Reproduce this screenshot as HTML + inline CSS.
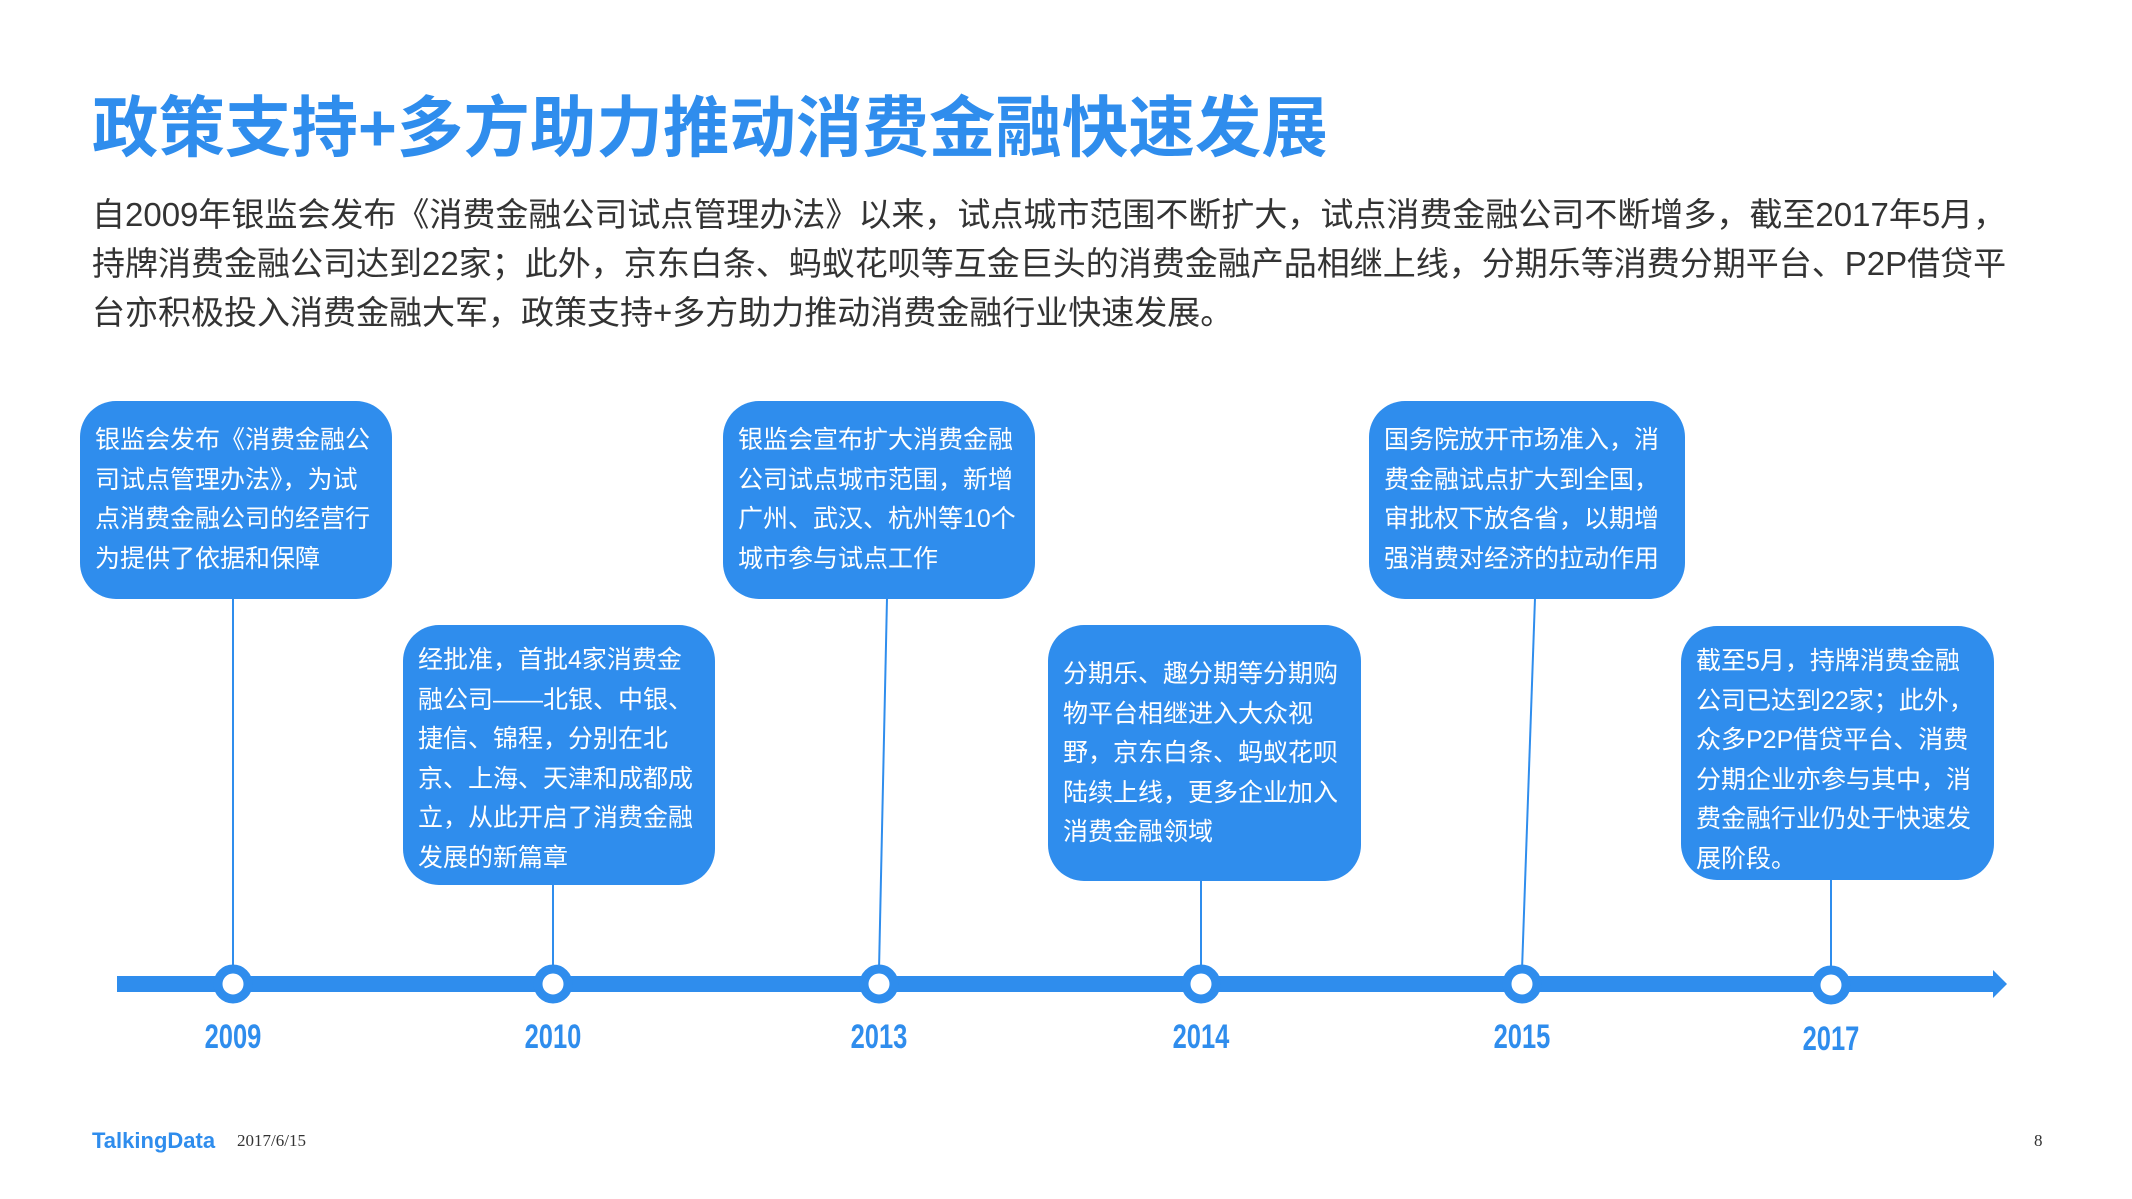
<!DOCTYPE html>
<html><head><meta charset="utf-8"><style>
body{margin:0;width:2132px;height:1199px;background:#fff;position:relative;overflow:hidden;font-family:"Liberation Sans","Noto Sans CJK SC",sans-serif;}
.t{position:absolute;left:92px;top:75px;font-size:66.5px;font-weight:bold;color:#2f8ded;white-space:nowrap}
.p{position:absolute;left:92px;top:190px;font-size:33px;line-height:49px;color:#333;white-space:nowrap}
.b{position:absolute;background:#2f8ded;border-radius:36px;color:#fff;font-size:25px;line-height:39.5px;padding:16px 0 0 15px;box-sizing:border-box;white-space:nowrap}
.y{position:absolute;top:1018px;width:120px;margin-left:-60px;text-align:center;font-size:34px;font-weight:bold;color:#2f8ded;transform:scaleX(0.75)}
</style></head><body>
<div class="t">政策支持+多方助力推动消费金融快速发展</div>
<div class="p">自2009年银监会发布《消费金融公司试点管理办法》以来，试点城市范围不断扩大，试点消费金融公司不断增多，截至2017年5月，<br>持牌消费金融公司达到22家；此外，京东白条、蚂蚁花呗等互金巨头的消费金融产品相继上线，分期乐等消费分期平台、P2P借贷平<br>台亦积极投入消费金融大军，政策支持+多方助力推动消费金融行业快速发展。</div>

<svg style="position:absolute;left:0;top:0" width="2132" height="1199">
<g stroke="#2f8ded" stroke-width="2" fill="none">
<line x1="233" y1="598" x2="233" y2="970"/>
<line x1="553" y1="884" x2="553" y2="970"/>
<line x1="887" y1="598" x2="879" y2="970"/>
<line x1="1201" y1="880" x2="1201" y2="970"/>
<line x1="1535" y1="598" x2="1522" y2="970"/>
<line x1="1831" y1="878" x2="1831" y2="970"/>
</g>
<rect x="117" y="976" width="1880" height="16" fill="#2f8ded"/>
<polygon points="1993,970 2007,984 1993,998" fill="#2f8ded"/>
<g fill="#fff" stroke="#2f8ded" stroke-width="9">
<circle cx="233" cy="984" r="15"/><circle cx="553" cy="984" r="15"/><circle cx="879" cy="984" r="15"/>
<circle cx="1201" cy="984" r="15"/><circle cx="1522" cy="984" r="15"/><circle cx="1831" cy="985" r="15"/>
</g>
</svg>

<div class="b" style="left:80px;top:401px;width:312px;height:198px;padding-top:20px">银监会发布《消费金融公<br>司试点管理办法》，为试<br>点消费金融公司的经营行<br>为提供了依据和保障</div>
<div class="b" style="left:403px;top:625px;width:312px;height:260px">经批准，首批4家消费金<br>融公司——北银、中银、<br>捷信、锦程，分别在北<br>京、上海、天津和成都成<br>立，从此开启了消费金融<br>发展的新篇章</div>
<div class="b" style="left:723px;top:401px;width:312px;height:198px;padding-top:20px">银监会宣布扩大消费金融<br>公司试点城市范围，新增<br>广州、武汉、杭州等10个<br>城市参与试点工作</div>
<div class="b" style="left:1048px;top:625px;width:313px;height:256px;padding-top:30px">分期乐、趣分期等分期购<br>物平台相继进入大众视<br>野，京东白条、蚂蚁花呗<br>陆续上线，更多企业加入<br>消费金融领域</div>
<div class="b" style="left:1369px;top:401px;width:316px;height:198px;padding-top:20px">国务院放开市场准入，消<br>费金融试点扩大到全国，<br>审批权下放各省，以期增<br>强消费对经济的拉动作用</div>
<div class="b" style="left:1681px;top:626px;width:313px;height:254px">截至5月，持牌消费金融<br>公司已达到22家；此外，<br>众多P2P借贷平台、消费<br>分期企业亦参与其中，消<br>费金融行业仍处于快速发<br>展阶段。</div>

<div class="y" style="left:233px">2009</div>
<div class="y" style="left:553px">2010</div>
<div class="y" style="left:879px">2013</div>
<div class="y" style="left:1201px">2014</div>
<div class="y" style="left:1522px">2015</div>
<div class="y" style="left:1831px;top:1020px">2017</div>

<div style="position:absolute;left:92px;top:1128px;font-size:22px;font-weight:bold;color:#2f8ded">TalkingData</div>
<div style="position:absolute;left:237px;top:1131px;font-size:17px;color:#333;font-family:'Liberation Serif',serif">2017/6/15</div>
<div style="position:absolute;left:2034px;top:1131px;font-size:17px;color:#333;font-family:'Liberation Serif',serif">8</div>
</body></html>
